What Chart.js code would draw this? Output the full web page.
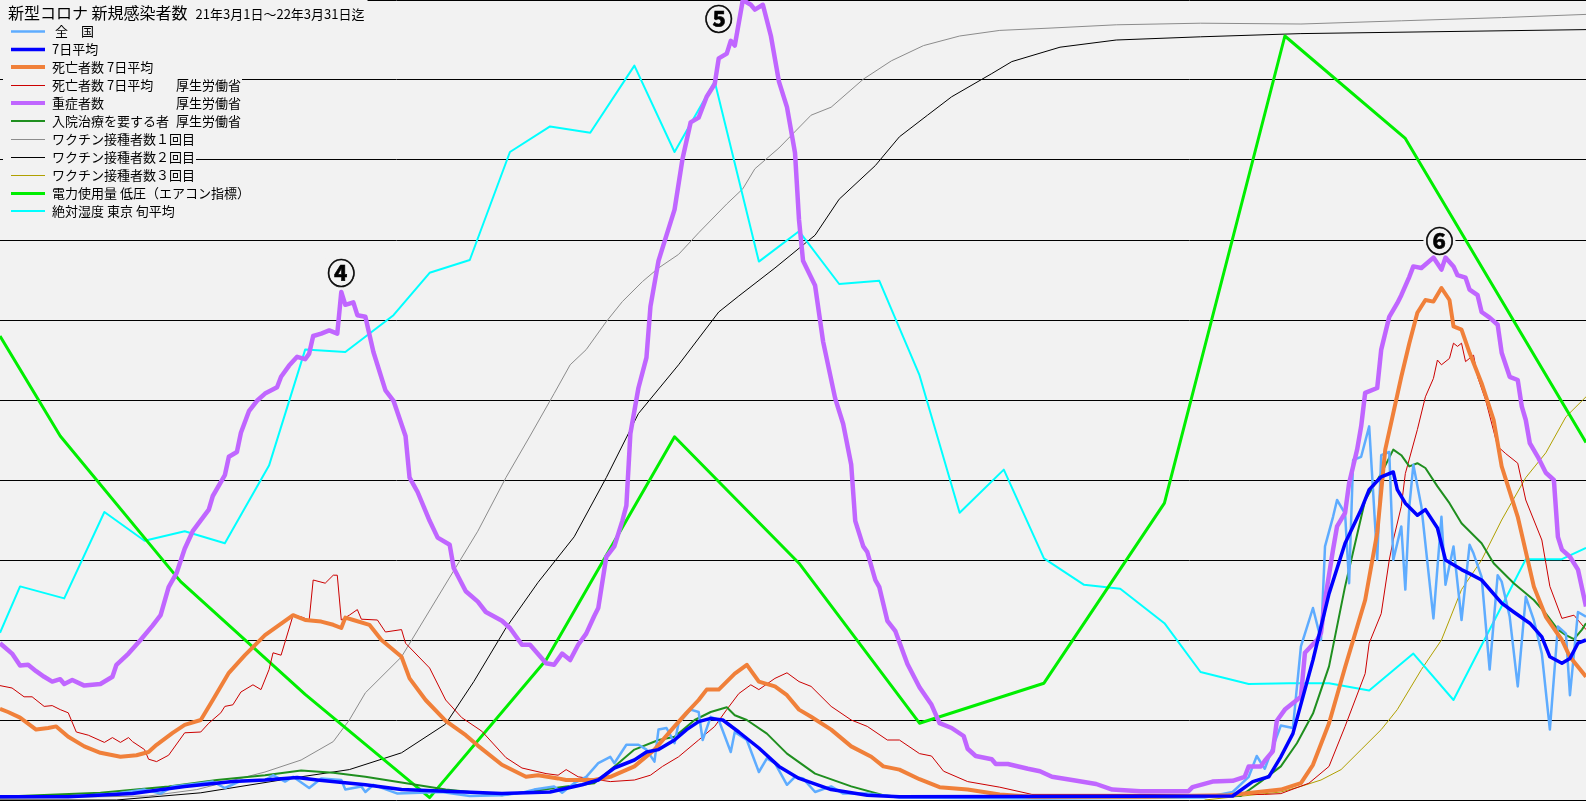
<!DOCTYPE html>
<html lang="ja">
<head>
<meta charset="utf-8">
<title>新型コロナ 新規感染者数</title>
<script src="https://cdn.jsdelivr.net/npm/chart.js@4.4.1/dist/chart.umd.min.js"></script>
<style>
  html, body { margin: 0; padding: 0; background: #f2f2f2; overflow: hidden; }
  #chart { display: block; }
</style>
</head>
<body>
<canvas id="chart" width="1586" height="801"></canvas>
<script>
// 横軸は 2021/3/1 からの日数 (0〜395)、縦軸は罫線1本 = 1 の目盛 (0〜10)
const titleMain = '新型コロナ 新規感染者数';
const titlePeriod = '21年3月1日～22年3月31日迄';
const dayMin = 0, dayMax = 395;
const gridMin = 0, gridMax = 10;

const seriesNames = [' 全　国', '7日平均', '死亡者数 7日平均', '死亡者数 7日平均', '重症者数', '入院治療を要する者',
  'ワクチン接種者数１回目', 'ワクチン接種者数２回目', 'ワクチン接種者数３回目', '電力使用量 低圧（エアコン指標）', '絶対湿度 東京 旬平均'];
const seriesSource = ['', '', '', '厚生労働省', '厚生労働省', '厚生労働省', '', '', '', '', ''];

// 波の番号
const waveLabels = ['④', '⑤', '⑥'];
const waveDay = [85, 179, 358.5];
const waveVal = [6.59, 9.77, 6.99];

// 全国 (日次)
const casesDaily = [[0,0.04],[17,0.04],[29,0.08],[36,0.13],[40,0.08],[43,0.17],[50,0.21],[53,0.23],[56,0.15],[60,0.24],[66,0.25],[68,0.31],[71,0.23],[73,0.29],[77,0.15],[80,0.27],[85,0.25],[86,0.13],[90,0.17],[91,0.10],[93,0.19],[99,0.08],[110,0.10],[117,0.05],
  [125,0.06],[130,0.09],[133,0.13],[138,0.17],[140,0.09],[143,0.21],[146,0.29],[149,0.46],[152,0.54],[153,0.46],[156,0.69],[159,0.69],[161,0.63],[163,0.48],[164,0.88],[166,0.90],[168,0.71],[169,0.96],[172,1.13],[174,1.10],[175,0.75],[177,1.04],[179,1.00],[182,0.60],[183,0.85],[186,0.75],[189,0.35],[191,0.52],[193,0.46],[196,0.19],[198,0.29],[200,0.27],[203,0.10],[207,0.17],[210,0.08],[216,0.08],[224,0.03],[260,0.02],[300,0.03],
  [307,0.10],[311,0.29],[313,0.55],[315,0.39],[319,0.93],[322,0.90],[324,1.92],[325,2.08],[327,2.40],[329,2.00],[330,3.17],[332,3.54],[333,3.75],[335,3.58],[336,2.71],[337,4.25],[339,4.29],[341,4.67],[343,3.00],[344,4.31],[346,4.35],[347,3.00],[349,3.42],[350,2.63],[351,3.67],[352,4.19],[354,3.67],[357,2.27],[359,3.54],[360,2.69],[362,3.17],[364,2.25],[366,3.19],[367,3.08],[369,2.79],[371,1.63],[373,2.81],[374,2.73],[376,2.29],[378,1.42],[380,2.54],[382,2.25],[384,1.83],[386,0.88],[388,2.17],[390,2.08],[391,1.31],[393,2.35],[395,2.29]];

// 7日平均
const casesAvg = [[0,0.04],[17,0.04],[33,0.08],[46,0.17],[58,0.23],[66,0.25],[74,0.28],[79,0.25],[91,0.19],[100,0.13],[125,0.08],[137,0.10],[145,0.19],[149,0.25],[153,0.40],[158,0.50],[161,0.60],[164,0.63],[168,0.75],[171,0.88],[174,0.98],[177,1.02],[180,1.00],[184,0.85],[189,0.65],[194,0.42],[199,0.27],[207,0.13],[216,0.06],[224,0.04],
  [307,0.05],[312,0.23],[316,0.29],[319,0.54],[322,0.83],[327,1.75],[331,2.58],[335,3.21],[339,3.63],[341,3.88],[344,4.04],[347,4.10],[348,3.88],[350,3.71],[353,3.56],[355,3.63],[358,3.40],[360,3.00],[364,2.88],[366,2.83],[369,2.75],[374,2.46],[377,2.35],[381,2.21],[384,2.04],[386,1.79],[389,1.71],[391,1.77],[393,1.96],[395,2.00]];

// 死亡者数 7日平均
const deathsAvg = [[0,1.14],[2,1.10],[5,1.03],[9,0.88],[12,0.90],[14,0.92],[17,0.79],[21,0.67],[25,0.59],[30,0.54],[34,0.56],[37,0.60],[39,0.69],[43,0.84],[46,0.94],[50,1.00],[53,1.25],[57,1.59],[61,1.81],[66,2.06],[73,2.31],[76,2.25],[80,2.23],[83,2.19],[85,2.15],[86,2.28],[88,2.25],[92,2.19],[95,2.00],[100,1.79],[102,1.52],[106,1.25],[111,0.99],[116,0.81],[119,0.68],[125,0.44],[131,0.29],[134,0.31],[139,0.27],[141,0.25],[148,0.25],
  [152,0.29],[158,0.42],[163,0.63],[168,0.92],[171,1.09],[174,1.25],[176,1.38],[179,1.38],[183,1.58],[186,1.69],[189,1.48],[193,1.42],[196,1.31],[199,1.13],[202,1.04],[207,0.88],[212,0.67],[217,0.54],[220,0.42],[224,0.38],[229,0.26],[234,0.16],[241,0.13],[249,0.07],[257,0.04],[286,0.04],[306,0.06],
  [319,0.13],[324,0.21],[327,0.44],[331,0.96],[335,1.66],[340,2.50],[343,3.34],[345,4.38],[349,5.29],[351,5.71],[353,6.09],[355,6.25],[357,6.23],[359,6.40],[361,6.25],[362,5.92],[364,5.88],[366,5.59],[369,5.21],[372,4.75],[374,4.17],[378,3.54],[382,2.67],[385,2.29],[389,2.00],[391,1.79],[395,1.54]];

// 死亡者数 7日平均 厚生労働省
const deathsMhlw = [[0,1.43],[3,1.40],[6,1.29],[8,1.29],[11,1.17],[13,1.18],[15,1.13],[17,1.09],[19,0.85],[22,0.81],[26,0.72],[28,0.78],[30,0.72],[32,0.78],[33,0.73],[36,0.63],[37,0.51],[39,0.48],[42,0.56],[46,0.84],[50,0.85],[52,0.96],[55,1.09],[56,1.17],[58,1.19],[60,1.35],[63,1.44],[65,1.38],[67,1.63],[68,1.84],[70,1.81],[73,2.31],[75,2.29],[77,2.25],[78,2.75],[81,2.71],[83,2.81],[84,2.81],[85,2.25],[87,2.31],[89,2.38],[90,2.26],[94,2.25],[96,2.10],[100,2.13],[101,1.96],[107,1.65],[111,1.25],[115,1.03],[120,0.86],[126,0.53],[130,0.40],[136,0.33],[139,0.31],[141,0.38],[144,0.29],
  [152,0.23],[158,0.25],[162,0.31],[165,0.42],[169,0.54],[174,0.75],[178,0.92],[181,1.13],[184,1.33],[187,1.44],[189,1.38],[193,1.52],[196,1.59],[199,1.48],[202,1.42],[207,1.17],[212,1.00],[216,0.92],[221,0.75],[224,0.75],[229,0.58],[232,0.55],[235,0.36],[241,0.23],[249,0.16],[257,0.07],[315,0.07],
  [319,0.08],[326,0.21],[331,0.42],[335,0.92],[340,1.58],[341,1.96],[344,2.33],[346,3.00],[347,3.25],[349,3.67],[350,4.08],[353,4.63],[355,5.04],[357,5.27],[358,5.50],[359,5.44],[361,5.52],[362,5.71],[363,5.67],[364,5.71],[365,5.48],[367,5.56],[368,5.29],[370,5.00],[373,4.42],[375,4.33],[378,4.21],[380,3.75],[384,3.25],[386,2.67],[389,2.27],[392,2.31],[395,2.13]];

// 重症者数 厚生労働省
const severe = [[0,1.96],[3,1.83],[5,1.68],[7,1.69],[9,1.61],[11,1.54],[13,1.48],[15,1.51],[16,1.45],[18,1.50],[21,1.43],[25,1.45],[28,1.54],[29,1.69],[32,1.83],[35,2.00],[38,2.18],[40,2.31],[42,2.66],[44,2.84],[46,3.14],[48,3.36],[52,3.63],[53,3.80],[56,4.06],[57,4.29],[59,4.35],[60,4.59],[62,4.86],[64,4.99],[66,5.08],[69,5.16],[70,5.29],[72,5.43],[74,5.54],[76,5.51],[77,5.58],[78,5.80],[80,5.83],[82,5.87],[84,5.83],[85,6.35],[86,6.19],[88,6.22],[89,6.06],[91,6.04],[93,5.60],[96,5.12],[98,4.99],[101,4.55],[102,4.03],[104,3.85],[107,3.49],[109,3.28],[112,3.19],[113,2.90],[116,2.61],[119,2.48],[121,2.35],[125,2.24],[127,2.15],[130,1.94],[132,1.94],[136,1.71],[138,1.69],
  [140,1.83],[142,1.75],[144,1.94],[146,2.08],[148,2.30],[149,2.40],[151,3.04],[153,3.17],[155,3.49],[156,3.68],[157,4.58],[159,5.15],[161,5.53],[162,6.17],[164,6.74],[166,7.06],[168,7.38],[170,8.02],[172,8.47],[174,8.53],[176,8.79],[178,8.95],[179,9.27],[181,9.33],[182,9.49],[183,9.43],[185,10.0],[187,9.94],[188,9.88],[190,9.94],[192,9.55],[194,8.98],[196,8.66],[198,8.09],[199,7.25],[200,6.74],[203,6.43],[205,5.73],[208,5.02],[210,4.70],[212,4.19],[213,3.49],[215,3.17],[216,3.10],[218,2.75],[219,2.66],[221,2.24],[223,2.11],[226,1.70],[229,1.41],[232,1.19],[234,0.96],[237,0.90],[240,0.80],[241,0.64],[243,0.55],[247,0.51],[248,0.45],[251,0.45],[256,0.39],[259,0.36],[262,0.29],[267,0.25],[273,0.20],[277,0.13],[284,0.11],[296,0.11],
  [297,0.16],[302,0.23],[307,0.24],[310,0.29],[311,0.42],[314,0.42],[315,0.49],[317,0.61],[318,0.99],[320,1.13],[324,1.29],[325,1.84],[328,2.00],[329,2.09],[330,2.50],[332,3.13],[333,3.42],[335,3.59],[336,3.96],[338,4.38],[339,4.67],[340,5.09],[343,5.15],[344,5.63],[346,6.04],[348,6.21],[349,6.31],[351,6.54],[352,6.67],[354,6.65],[357,6.78],[359,6.63],[360,6.78],[362,6.67],[363,6.56],[365,6.53],[366,6.38],[368,6.31],[369,6.10],[371,6.03],[373,5.94],[374,5.59],[376,5.29],[378,5.25],[379,4.92],[380,4.75],[381,4.46],[383,4.29],[385,4.09],[387,4.00],[388,3.29],[389,3.13],[391,3.04],[393,2.88],[395,2.42]];

// 入院治療を要する者 厚生労働省
const hospital = [[0,0.04],[25,0.09],[42,0.17],[54,0.25],[66,0.31],[75,0.37],[83,0.34],[91,0.29],[100,0.22],[111,0.13],[125,0.06],[141,0.17],[148,0.21],[154,0.46],[158,0.63],[164,0.75],[168,0.79],[173,1.00],[177,1.10],[181,1.16],[183,1.06],[186,1.00],[191,0.83],[196,0.58],[203,0.33],[212,0.17],[220,0.06],[224,0.04],
  [309,0.05],[314,0.23],[319,0.42],[323,0.71],[327,1.08],[331,1.67],[335,2.67],[340,3.75],[344,4.08],[347,4.38],[349,4.31],[351,4.17],[353,4.21],[355,4.15],[358,3.92],[361,3.71],[364,3.46],[369,3.21],[372,2.96],[377,2.71],[382,2.50],[385,2.33],[388,2.13],[390,2.06],[392,2.01],[394,2.13],[395,2.21]];

// ワクチン接種者数 1回目 / 2回目 / 3回目
const vaccine1 = [[0,0.02],[37,0.05],[49,0.13],[66,0.35],[75,0.50],[83,0.73],[87,1.00],[91,1.34],[100,1.79],[111,2.70],[119,3.36],[126,4.03],[132,4.55],[138,5.08],[142,5.44],[146,5.63],[151,5.98],[155,6.23],[160,6.48],[164,6.65],[169,6.82],[174,7.09],[181,7.45],[185,7.64],[188,7.89],[194,8.15],[202,8.56],[207,8.66],[215,9.01],[222,9.24],[230,9.43],[239,9.55],[249,9.62],[262,9.65],[278,9.69],[299,9.71],[324,9.70],[349,9.74],[374,9.78],[395,9.82]];
const vaccine2 = [[0,0.0],[29,0.0],[50,0.09],[75,0.29],[87,0.38],[100,0.59],[111,0.95],[118,1.48],[126,2.15],[134,2.72],[143,3.29],[151,4.03],[159,4.83],[169,5.44],[179,6.10],[184,6.30],[193,6.65],[203,7.06],[209,7.51],[218,7.93],[224,8.29],[231,8.56],[237,8.79],[247,9.08],[252,9.23],[264,9.41],[278,9.50],[299,9.54],[324,9.58],[395,9.63]];
const vaccine3 = [[300,0.0],[319,0.10],[324,0.17],[329,0.25],[334,0.38],[339,0.63],[344,0.88],[348,1.13],[354,1.63],[359,2.00],[364,2.63],[369,3.00],[374,3.50],[380,4.03],[385,4.34],[390,4.79],[395,5.04]];

// 電力使用量 低圧 (月次)
const power = [[0,5.80],[15,4.55],[45,2.73],[76,1.32],[107,0.03],[136,1.75],[168,4.54],[199,2.96],[229,0.96],[260,1.46],[290,3.71],[320,9.55],[350,8.27],[395,4.47]];

// 絶対湿度 東京 旬平均
const humidity = [[0,2.09],[5,2.67],[16,2.52],[26,3.60],[36,3.24],[46,3.36],[56,3.21],[67,4.18],[76,5.63],[86,5.60],[98,6.06],[107,6.59],[117,6.75],[127,8.10],[137,8.42],[147,8.34],[158,9.18],[168,8.10],[178,8.98],[189,6.73],[199,7.11],[209,6.45],[219,6.49],[229,5.31],[239,3.59],[250,4.13],[260,3.02],[270,2.69],[279,2.64],[290,2.21],[299,1.60],[311,1.45],[321,1.46],[331,1.46],[341,1.37],[352,1.83],[362,1.25],[380,3.01],[389,3.01],[395,3.15]];

const seriesData = [casesDaily, casesAvg, deathsAvg, deathsMhlw, severe, hospital, vaccine1, vaccine2, vaccine3, power, humidity];

// 色と線幅 (凡例順)。order が小さいほど手前に描く
const BG = '#f2f2f2';
const seriesColors = ['#5eacff', '#0000ff', '#f0803a', '#cc0000', '#c066ff', '#1f8f1f', '#8c8c8c', '#000000', '#b0a000', '#00ee00', '#00ffff'];
const seriesWidths = [2.5, 3.5, 4, 1, 4.5, 2, 1, 1, 1, 3, 2];
const seriesOrder = [4, 1, 3, 6, 2, 5, 11, 10, 9, 7, 8];

const datasets = seriesData.map(function (rows, i) {
  return {
    label: seriesNames[i] + seriesSource[i],
    data: rows.map(function (r) { return { x: r[0], y: r[1] }; }),
    borderColor: seriesColors[i],
    borderWidth: seriesWidths[i],
    pointRadius: 0,
    tension: 0,
    fill: false,
    borderJoinStyle: 'round',
    order: seriesOrder[i]
  };
});

const FONT = '"Noto Sans CJK JP", "Noto Sans", sans-serif';

// 背景・タイトル・凡例・波の番号を描く
const overlayPlugin = {
  id: 'overlay',
  beforeDraw: function (chart) {
    const c = chart.ctx;
    c.save();
    c.fillStyle = BG;
    c.fillRect(0, 0, chart.width, chart.height);
    c.restore();
  },
  afterDraw: function (chart) {
    const c = chart.ctx;
    const xs = chart.scales.x, ys = chart.scales.y;
    c.save();

    // 波の番号 ④⑤⑥ (少しだけ縁取りして太く)
    c.font = 'bold 28px ' + FONT;
    c.textAlign = 'center';
    c.textBaseline = 'middle';
    waveLabels.forEach(function (t, i) {
      const px = xs.getPixelForValue(waveDay[i]);
      const py = ys.getPixelForValue(waveVal[i]);
      const w = c.measureText(t).width;
      c.fillStyle = BG;
      c.fillRect(px - w / 2 - 2, py - 14, w + 4, 28);
      c.fillStyle = '#000';
      c.strokeStyle = '#000';
      c.lineWidth = 0.6;
      c.fillText(t, px, py + 1);
      c.strokeText(t, px, py + 1);
    });

    // タイトル
    c.textAlign = 'left';
    c.font = '16px ' + FONT;
    const w1 = c.measureText(titleMain).width;
    c.font = '13px ' + FONT;
    const w2 = c.measureText(titlePeriod).width;
    const periodX = 8 + w1 + 8;
    c.fillStyle = BG;
    c.fillRect(0, 0, periodX + w2 + 3, 23);
    c.fillStyle = '#000';
    c.font = '16px ' + FONT;
    c.fillText(titleMain, 8, 13);
    c.font = '13px ' + FONT;
    c.fillText(titlePeriod, periodX, 14);

    // 凡例
    c.font = '13px ' + FONT;
    seriesNames.forEach(function (name, i) {
      const y = 30.5 + i * 18;
      const srcX = 176;
      let end = 52 + c.measureText(name).width;
      if (seriesSource[i]) end = srcX + c.measureText(seriesSource[i]).width;
      c.fillStyle = BG;
      c.fillRect(3, y - 9, end - 3 + 1, 18);
      c.strokeStyle = seriesColors[i];
      c.lineWidth = Math.min(seriesWidths[i], 4);
      c.beginPath();
      c.moveTo(11, Math.round(y) + (c.lineWidth % 2 ? 0.5 : 0));
      c.lineTo(45, Math.round(y) + (c.lineWidth % 2 ? 0.5 : 0));
      c.stroke();
      c.fillStyle = '#000';
      c.fillText(name, 52, y + 1);
      if (seriesSource[i]) c.fillText(seriesSource[i], srcX, y + 1);
    });
    c.restore();
  }
};

new Chart(document.getElementById('chart'), {
  type: 'line',
  data: { datasets: datasets },
  options: {
    responsive: false,
    animation: false,
    devicePixelRatio: 1,
    layout: { padding: { top: 0, left: 0, right: 0, bottom: 1 } },
    plugins: {
      legend: { display: false },
      tooltip: { enabled: false },
      title: { display: false }
    },
    scales: {
      x: {
        type: 'linear',
        min: dayMin,
        max: dayMax,
        display: false
      },
      y: {
        type: 'linear',
        min: gridMin,
        max: gridMax,
        ticks: { display: false, stepSize: 1 },
        grid: { color: '#000000', lineWidth: 1, drawTicks: false },
        border: { display: false },
        afterFit: function (s) { s.width = 0; }
      }
    }
  },
  plugins: [overlayPlugin]
});
</script>
</body>
</html>
